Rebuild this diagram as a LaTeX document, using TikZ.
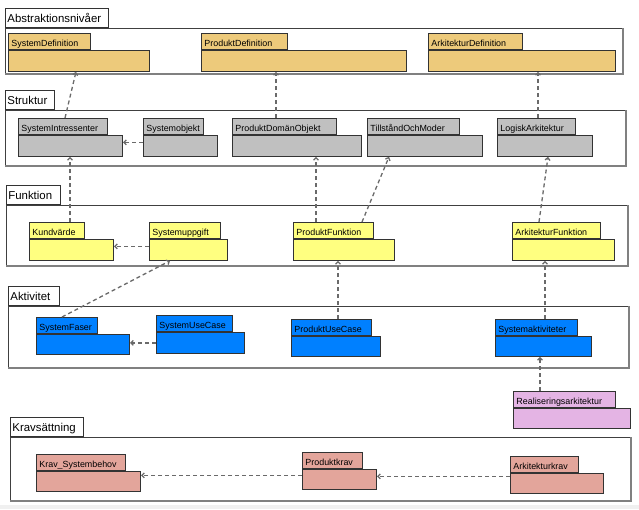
\documentclass[tikz,border=0pt]{standalone}
\usepackage{fontspec}
\setmainfont{Liberation Sans}
\usetikzlibrary{arrows.meta}

\definecolor{abscol}{HTML}{EDCA7B}
\definecolor{strcol}{HTML}{C0C0C0}
\definecolor{funcol}{HTML}{FFFF80}
\definecolor{aktcol}{HTML}{0080FF}
\definecolor{realcol}{HTML}{E4B4E4}
\definecolor{kravcol}{HTML}{E3A59B}
\definecolor{depcol}{HTML}{6A6A6A}

\begin{document}
\begin{tikzpicture}[
x=1pt, y=-1pt,
frame/.style={draw=black!75, line width=0.8pt, anchor=north west, inner sep=0pt},
frametab/.style={draw=black!80, fill=white, line width=0.8pt, anchor=south west, inner xsep=2pt, inner ysep=0pt, minimum height=19pt, text height=10.5pt, text depth=1pt, align=left, font=\fontsize{11.4}{12}\selectfont},
shadowline/.style={draw=black!50, line width=1.6pt},
pkgtab/.style={draw=black!80, fill=#1, line width=0.9pt, anchor=north west, inner xsep=3pt, inner ysep=0pt, minimum height=16pt, text height=12pt, text depth=1pt, align=left, font=\fontsize{8.9}{10}\selectfont},
pkgbody/.style={draw=black!80, fill=#1, line width=0.9pt, anchor=north west, inner sep=0pt, minimum height=21pt},
dep/.style={draw=depcol, line width=1.3pt, dash pattern=on 4pt off 3pt, -{Straight Barb[length=2.5pt,width=5pt]}},
]
\useasboundingbox (0,0) rectangle (639,509);
\fill[black!6] (0,505) rectangle (639,509);

%Frames
\node[frame, minimum width=617pt, minimum height=45pt] (abs) at (5,28) {};
\node[frametab, text width=99pt] (abs-t) at (abs.north west) {Abstraktionsnivåer};
\draw[shadowline] (abs.north east) -- (abs.south east) -- (abs.south west);

\node[frame, minimum width=620pt, minimum height=55pt] (str) at (5,110) {};
\node[frametab, text width=45pt] (str-t) at (str.north west) {Struktur};
\draw[shadowline] (str.north east) -- (str.south east) -- (str.south west);

\node[frame, minimum width=621pt, minimum height=60pt] (fun) at (6,205) {};
\node[frametab, text width=50pt] (fun-t) at (fun.north west) {Funktion};
\draw[shadowline] (fun.north east) -- (fun.south east) -- (fun.south west);

\node[frame, minimum width=620pt, minimum height=61pt] (akt) at (8,306) {};
\node[frametab, text width=47pt] (akt-t) at (akt.north west) {Aktivitet};
\draw[shadowline] (akt.north east) -- (akt.south east) -- (akt.south west);

\node[frame, minimum width=620pt, minimum height=63pt] (krav) at (10,437) {};
\node[frametab, text width=69pt] (krav-t) at (krav.north west) {Kravsättning};
\draw[shadowline] (krav.north east) -- (krav.south east) -- (krav.south west);

%Packages
\node[pkgtab=abscol, text width=76pt] (sdef-t) at (8,33) {SystemDefinition};
\node[pkgbody=abscol, minimum width=141pt] (sdef) at (sdef-t.south west) {};
\node[pkgtab=abscol, text width=80pt] (pdef-t) at (201,33) {ProduktDefinition};
\node[pkgbody=abscol, minimum width=205pt] (pdef) at (pdef-t.south west) {};
\node[pkgtab=abscol, text width=88pt] (adef-t) at (428,33) {ArkitekturDefinition};
\node[pkgbody=abscol, minimum width=187pt] (adef) at (adef-t.south west) {};

\node[pkgtab=strcol, text width=83pt] (sint-t) at (18,118) {SystemIntressenter};
\node[pkgbody=strcol, minimum width=104pt] (sint) at (sint-t.south west) {};
\node[pkgtab=strcol, text width=54pt] (sobj-t) at (143,118) {Systemobjekt};
\node[pkgbody=strcol, minimum width=74pt] (sobj) at (sobj-t.south west) {};
\node[pkgtab=strcol, text width=98pt] (pdo-t) at (232,118) {ProduktDomänObjekt};
\node[pkgbody=strcol, minimum width=129pt] (pdo) at (pdo-t.south west) {};
\node[pkgtab=strcol, text width=86pt] (tom-t) at (367,118) {TillståndOchModer};
\node[pkgbody=strcol, minimum width=115pt] (tom) at (tom-t.south west) {};
\node[pkgtab=strcol, text width=72pt] (logark-t) at (497,118) {LogiskArkitektur};
\node[pkgbody=strcol, minimum width=95pt] (logark) at (logark-t.south west) {};

\node[pkgtab=funcol, text width=49pt] (kund-t) at (29,222) {Kundvärde};
\node[pkgbody=funcol, minimum width=84pt] (kund) at (kund-t.south west) {};
\node[pkgtab=funcol, text width=65pt] (supp-t) at (149,222) {Systemuppgift};
\node[pkgbody=funcol, minimum width=78pt] (supp) at (supp-t.south west) {};
\node[pkgtab=funcol, text width=74pt] (pfun-t) at (293,222) {ProduktFunktion};
\node[pkgbody=funcol, minimum width=101pt] (pfun) at (pfun-t.south west) {};
\node[pkgtab=funcol, text width=82pt] (afun-t) at (512,222) {ArkitekturFunktion};
\node[pkgbody=funcol, minimum width=102pt] (afun) at (afun-t.south west) {};

\node[pkgtab=aktcol, text width=55pt] (sfas-t) at (36,317) {SystemFaser};
\node[pkgbody=aktcol, minimum width=93pt, minimum height=20pt] (sfas) at (sfas-t.south west) {};
\node[pkgtab=aktcol, text width=70pt] (suc-t) at (156,315) {SystemUseCase};
\node[pkgbody=aktcol, minimum width=88pt] (suc) at (suc-t.south west) {};
\node[pkgtab=aktcol, text width=74pt] (puc-t) at (291,319) {ProduktUseCase};
\node[pkgbody=aktcol, minimum width=89pt, minimum height=20pt] (puc) at (puc-t.south west) {};
\node[pkgtab=aktcol, text width=76pt] (sakt-t) at (495,319) {Systemaktiviteter};
\node[pkgbody=aktcol, minimum width=96pt, minimum height=20pt] (sakt) at (sakt-t.south west) {};

\node[pkgtab=realcol, text width=96pt] (real-t) at (513,391) {Realiseringsarkitektur};
\node[pkgbody=realcol, minimum width=117pt, minimum height=20pt] (real) at (real-t.south west) {};

\node[pkgtab=kravcol, text width=83pt] (ksys-t) at (36,454) {Krav\_Systembehov};
\node[pkgbody=kravcol, minimum width=104pt, minimum height=20pt] (ksys) at (ksys-t.south west) {};
\node[pkgtab=kravcol, text width=54pt] (pkrav-t) at (302,452) {Produktkrav};
\node[pkgbody=kravcol, minimum width=74pt, minimum height=20pt] (pkrav) at (pkrav-t.south west) {};
\node[pkgtab=kravcol, text width=62pt] (akrav-t) at (510,456) {Arkitekturkrav};
\node[pkgbody=kravcol, minimum width=93pt, minimum height=20pt] (akrav) at (akrav-t.south west) {};

%Lines
\draw[dep] ([xshift=47pt]sint-t.north west) -- ([xshift=68pt]sdef.south west);
\draw[dep] ([yshift=3.5pt]sobj.west) -- ([yshift=3.5pt]sobj.west -| sint.east);
\draw[dep] ([xshift=44pt]pdo-t.north west) -- ([xshift=75pt]pdef.south west);
\draw[dep] ([xshift=41pt]logark-t.north west) -- ([xshift=110pt]adef.south west);

\draw[dep] ([xshift=41pt]kund-t.north west) -- ([xshift=52pt]sint.south west);
\draw[dep] ([yshift=3.5pt]supp.west) -- ([yshift=3.5pt]supp.west -| kund.east);
\draw[dep] ([xshift=23pt]pfun-t.north west) -- ([xshift=84pt]pdo.south west);
\draw[dep] ([xshift=69pt]pfun-t.north west) -- ([xshift=22pt]tom.south west);
\draw[dep] ([xshift=27pt]afun-t.north west) -- ([xshift=51pt]logark.south west);

\draw[dep] ([xshift=26pt]sfas-t.north west) -- ([xshift=21pt]supp.south west);
\draw[dep] (suc.west) -- (suc.west -| sfas.east);
\draw[dep] ([xshift=47pt]puc-t.north west) -- ([xshift=45pt]pfun.south west);
\draw[dep] ([xshift=50pt]sakt-t.north west) -- ([xshift=33pt]afun.south west);

\draw[dep] ([xshift=27pt]real-t.north west) -- ([xshift=45pt]sakt.south west);

\draw[dep] ([yshift=4pt]pkrav.west) -- ([yshift=4pt]pkrav.west -| ksys.east);
\draw[dep] ([yshift=7pt]akrav.west) -- ([yshift=7pt]akrav.west -| pkrav.east);

\end{tikzpicture}
\end{document}
